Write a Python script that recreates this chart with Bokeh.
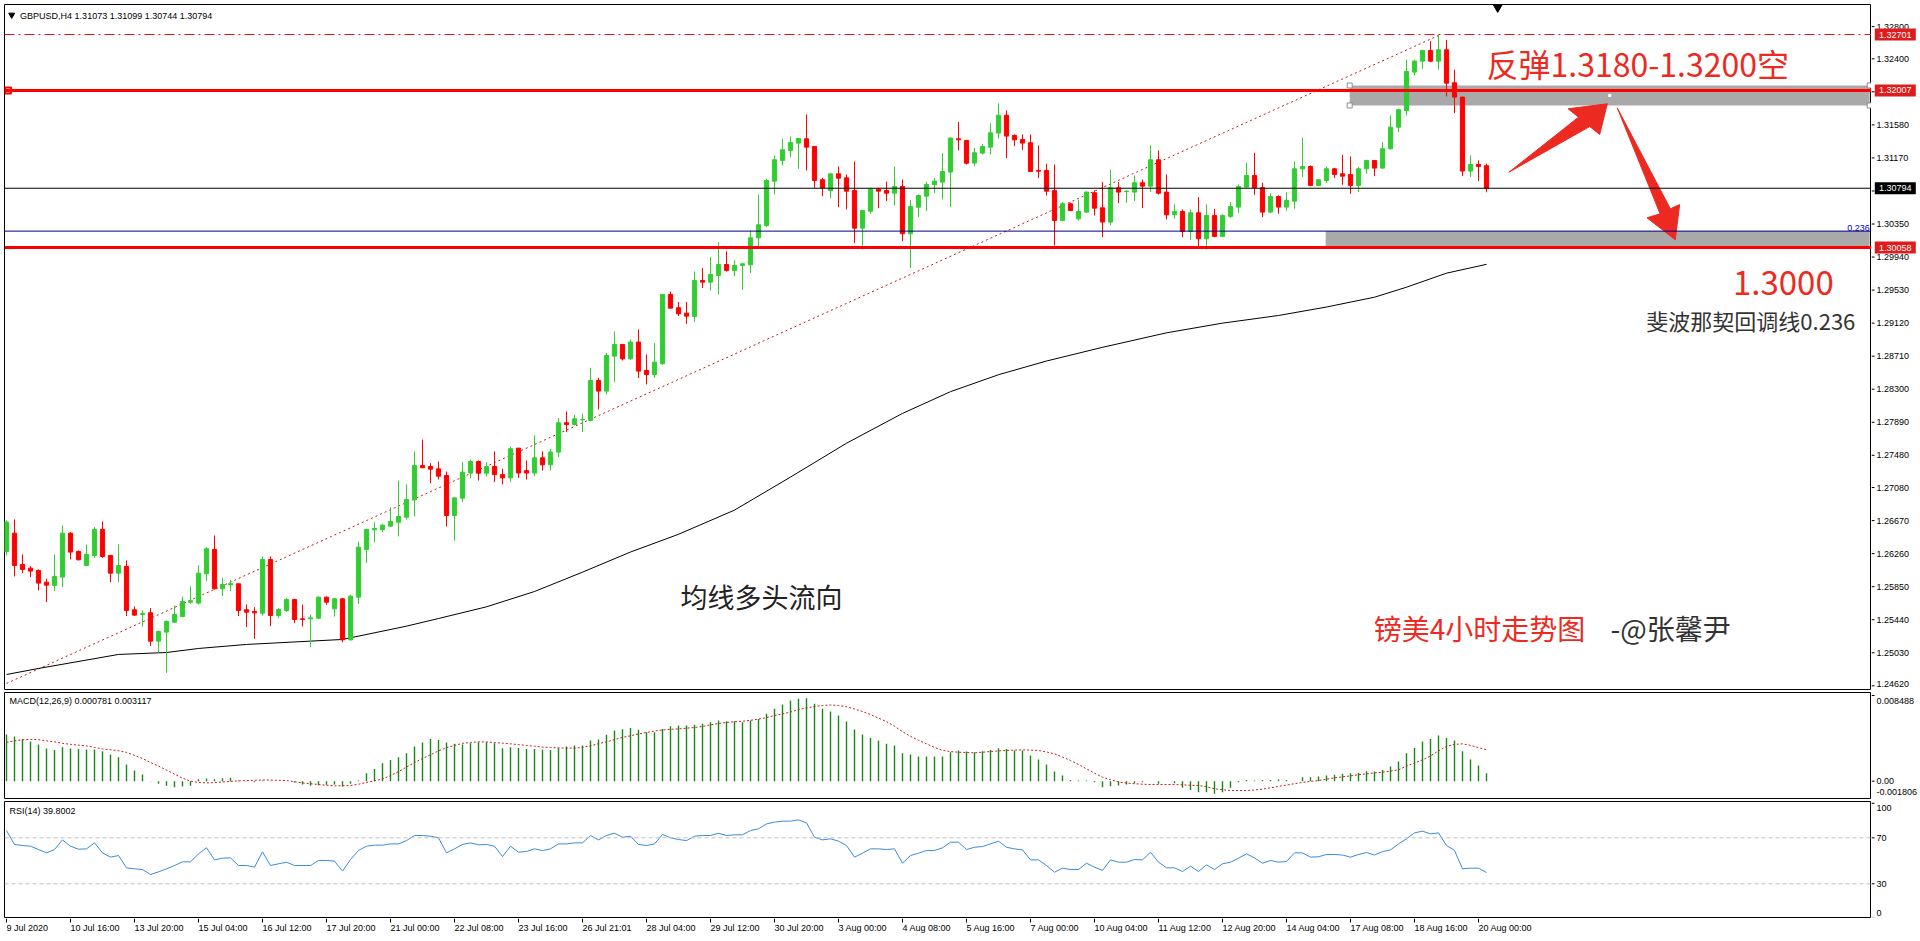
from bokeh.plotting import figure
from bokeh.models import Range1d, Span
from bokeh.layouts import column, row
from bokeh.embed import file_html
from bokeh.resources import INLINE
from bokeh.core.properties import value

# ---------------- data (GBPUSD H4, 9 Jul 08:00 .. 20 Aug 04:00) ----------------
opens = [
 1.26287, 1.26514, 1.26126, 1.26080, 1.26051, 1.25906, 1.25865, 1.25969, 1.26514, 1.26287,
 1.26113, 1.26237, 1.26560, 1.26237, 1.26018, 1.26101, 1.25563, 1.25505, 1.25526, 1.25174,
 1.25286, 1.25410, 1.25480, 1.25658, 1.25646, 1.26010, 1.26312, 1.25824, 1.25873, 1.25886,
 1.25563, 1.25542, 1.25521, 1.26187, 1.25492, 1.25554, 1.25691, 1.25451, 1.25451, 1.25459,
 1.25720, 1.25575, 1.25699, 1.25190, 1.25720, 1.26311, 1.26555, 1.26559, 1.26601, 1.26650,
 1.26712, 1.26927, 1.27353, 1.27341, 1.27312, 1.27229, 1.26733, 1.26948, 1.27262, 1.27403,
 1.27258, 1.27342, 1.27240, 1.27200, 1.27569, 1.27290, 1.27260, 1.27449, 1.27362, 1.27520,
 1.27884, 1.27863, 1.27921, 1.27913, 1.28409, 1.28277, 1.28711, 1.28856, 1.28678, 1.28885,
 1.28533, 1.28483, 1.28616, 1.29476, 1.29311, 1.29244, 1.29203, 1.29650, 1.29629, 1.29712,
 1.29848, 1.29774, 1.29836, 1.29844, 1.30179, 1.30332, 1.30882, 1.31139, 1.31263, 1.31354,
 1.31407, 1.31312, 1.30899, 1.30766, 1.30973, 1.30923, 1.30766, 1.30299, 1.30510, 1.30783,
 1.30766, 1.30733, 1.30816, 1.30229, 1.30559, 1.30696, 1.30837, 1.30870, 1.30994, 1.31407,
 1.31387, 1.31106, 1.31230, 1.31304, 1.31478, 1.31700, 1.31449, 1.31399, 1.31358, 1.31015,
 1.31015, 1.30767, 1.30394, 1.30601, 1.30415, 1.30498, 1.30738, 1.30551, 1.30374, 1.30800,
 1.30754, 1.30746, 1.30862, 1.30820, 1.31147, 1.30746, 1.30465, 1.30506, 1.30258, 1.30489,
 1.30167, 1.30456, 1.30196, 1.30444, 1.30560, 1.30808, 1.30953, 1.30800, 1.30498, 1.30692,
 1.30560, 1.30634, 1.31035, 1.31064, 1.30829, 1.30891, 1.31035, 1.30973, 1.30965, 1.30829,
 1.31035, 1.31139, 1.31044, 1.31284, 1.31552, 1.31759, 1.32235, 1.32371, 1.32504, 1.32371,
 1.32512, 1.32103, 1.31925, 1.31007, 1.31089, 1.31073]
highs = [
 1.26672, 1.26684, 1.26250, 1.26105, 1.26064, 1.25948, 1.26250, 1.26610, 1.26527, 1.26299,
 1.26374, 1.26589, 1.26659, 1.26237, 1.26374, 1.26175, 1.25605, 1.25555, 1.25584, 1.25307,
 1.25431, 1.25617, 1.25728, 1.25853, 1.26113, 1.26341, 1.26485, 1.25960, 1.25935, 1.25886,
 1.25629, 1.25596, 1.26224, 1.26224, 1.25583, 1.25707, 1.25691, 1.25629, 1.25505, 1.25728,
 1.25728, 1.25711, 1.25711, 1.25753, 1.26410, 1.26568, 1.26650, 1.26630, 1.26836, 1.27167,
 1.27118, 1.27527, 1.27676, 1.27382, 1.27403, 1.27279, 1.26961, 1.27395, 1.27424, 1.27416,
 1.27395, 1.27528, 1.27313, 1.27590, 1.27569, 1.27416, 1.27726, 1.27528, 1.27561, 1.27942,
 1.28024, 1.27983, 1.27995, 1.28566, 1.28442, 1.28752, 1.29017, 1.28856, 1.28918, 1.29042,
 1.28732, 1.28872, 1.29484, 1.29513, 1.29381, 1.29381, 1.29761, 1.29803, 1.29939, 1.30125,
 1.30010, 1.29898, 1.29865, 1.30270, 1.30713, 1.30911, 1.31201, 1.31407, 1.31436, 1.31420,
 1.31709, 1.31312, 1.30923, 1.30973, 1.31064, 1.30965, 1.31126, 1.30526, 1.30799, 1.30799,
 1.30878, 1.31064, 1.30903, 1.30650, 1.30717, 1.30870, 1.30919, 1.31230, 1.31428, 1.31614,
 1.31395, 1.31296, 1.31346, 1.31600, 1.31847, 1.31760, 1.31461, 1.31461, 1.31461, 1.31325,
 1.31097, 1.31089, 1.30622, 1.30614, 1.30651, 1.30754, 1.30767, 1.30870, 1.31023, 1.30870,
 1.30767, 1.30953, 1.30903, 1.31325, 1.31263, 1.30965, 1.30593, 1.30531, 1.30531, 1.30684,
 1.30593, 1.30539, 1.30469, 1.30622, 1.30841, 1.31110, 1.31234, 1.30862, 1.30734, 1.30705,
 1.30746, 1.31126, 1.31420, 1.31077, 1.30899, 1.31064, 1.31048, 1.31209, 1.31189, 1.31056,
 1.31147, 1.31139, 1.31366, 1.31697, 1.31780, 1.32388, 1.32388, 1.32512, 1.32620, 1.32701,
 1.32636, 1.32264, 1.31925, 1.31201, 1.31139, 1.31099]
lows = [
 1.26237, 1.25977, 1.26018, 1.25969, 1.25803, 1.25658, 1.25795, 1.25844, 1.26188, 1.26175,
 1.26105, 1.26208, 1.26208, 1.25906, 1.25906, 1.25485, 1.25485, 1.25356, 1.25112, 1.25030,
 1.24781, 1.25398, 1.25472, 1.25638, 1.25629, 1.25919, 1.25815, 1.25733, 1.25795, 1.25485,
 1.25348, 1.25203, 1.25492, 1.25360, 1.25463, 1.25534, 1.25397, 1.25356, 1.25099, 1.25451,
 1.25625, 1.25480, 1.25161, 1.25182, 1.25637, 1.26142, 1.26402, 1.26526, 1.26597, 1.26473,
 1.26683, 1.26721, 1.27325, 1.27134, 1.27180, 1.26597, 1.26423, 1.26899, 1.27196, 1.27167,
 1.27217, 1.27150, 1.27120, 1.27150, 1.27200, 1.27180, 1.27220, 1.27292, 1.27292, 1.27458,
 1.27768, 1.27851, 1.27768, 1.27904, 1.28049, 1.28235, 1.28388, 1.28657, 1.28665, 1.28438,
 1.28359, 1.28442, 1.28603, 1.29306, 1.29207, 1.29112, 1.29133, 1.29555, 1.29526, 1.29476,
 1.29761, 1.29703, 1.29534, 1.29741, 1.30063, 1.30311, 1.30717, 1.31076, 1.31180, 1.31035,
 1.31014, 1.30799, 1.30696, 1.30671, 1.30559, 1.30531, 1.30113, 1.30034, 1.30477, 1.30547,
 1.30634, 1.30580, 1.30138, 1.29803, 1.30435, 1.30510, 1.30733, 1.30655, 1.30559, 1.31263,
 1.31089, 1.31068, 1.31213, 1.31213, 1.31408, 1.31168, 1.31317, 1.31271, 1.30994, 1.30920,
 1.30704, 1.30084, 1.30386, 1.30510, 1.30394, 1.30489, 1.30456, 1.30187, 1.30332, 1.30609,
 1.30614, 1.30634, 1.30547, 1.30746, 1.30717, 1.30407, 1.30415, 1.30187, 1.30154, 1.30055,
 1.30034, 1.30188, 1.30196, 1.30427, 1.30485, 1.30800, 1.30713, 1.30436, 1.30485, 1.30477,
 1.30510, 1.30539, 1.30932, 1.30820, 1.30829, 1.30862, 1.30920, 1.30837, 1.30725, 1.30746,
 1.30973, 1.30944, 1.31035, 1.31275, 1.31490, 1.31697, 1.32194, 1.32276, 1.32359, 1.32268,
 1.31933, 1.31726, 1.30944, 1.30932, 1.30882, 1.30744]
closes = [
 1.26651, 1.26113, 1.26064, 1.26043, 1.25894, 1.25869, 1.25977, 1.26514, 1.26279, 1.26184,
 1.26250, 1.26560, 1.26225, 1.26018, 1.26113, 1.25555, 1.25497, 1.25518, 1.25174, 1.25294,
 1.25418, 1.25505, 1.25667, 1.25675, 1.26018, 1.26320, 1.25824, 1.25877, 1.25886, 1.25555,
 1.25534, 1.25525, 1.26187, 1.25492, 1.25567, 1.25691, 1.25443, 1.25443, 1.25463, 1.25720,
 1.25658, 1.25699, 1.25190, 1.25732, 1.26340, 1.26559, 1.26572, 1.26613, 1.26659, 1.26721,
 1.26932, 1.27353, 1.27325, 1.27308, 1.27221, 1.26733, 1.26952, 1.27271, 1.27403, 1.27258,
 1.27341, 1.27240, 1.27200, 1.27561, 1.27260, 1.27260, 1.27449, 1.27362, 1.27520, 1.27884,
 1.27863, 1.27933, 1.27925, 1.28409, 1.28277, 1.28719, 1.28856, 1.28678, 1.28885, 1.28525,
 1.28483, 1.28636, 1.29476, 1.29306, 1.29236, 1.29207, 1.29650, 1.29629, 1.29724, 1.29848,
 1.29774, 1.29836, 1.29856, 1.30179, 1.30340, 1.30890, 1.31147, 1.31271, 1.31362, 1.31411,
 1.31304, 1.30890, 1.30799, 1.30973, 1.30919, 1.30758, 1.30299, 1.30518, 1.30783, 1.30758,
 1.30733, 1.30816, 1.30229, 1.30568, 1.30704, 1.30841, 1.30882, 1.31002, 1.31416, 1.31395,
 1.31105, 1.31234, 1.31312, 1.31482, 1.31700, 1.31441, 1.31395, 1.31354, 1.31002, 1.31006,
 1.30758, 1.30394, 1.30601, 1.30518, 1.30506, 1.30746, 1.30547, 1.30374, 1.30800, 1.30746,
 1.30758, 1.30862, 1.30820, 1.31147, 1.30733, 1.30465, 1.30506, 1.30258, 1.30489, 1.30167,
 1.30456, 1.30196, 1.30456, 1.30568, 1.30816, 1.30953, 1.30800, 1.30498, 1.30692, 1.30560,
 1.30643, 1.31035, 1.31064, 1.30829, 1.30899, 1.31035, 1.30965, 1.30944, 1.30829, 1.31035,
 1.31139, 1.31044, 1.31284, 1.31552, 1.31768, 1.32243, 1.32371, 1.32504, 1.32371, 1.32512,
 1.32098, 1.31925, 1.31007, 1.31089, 1.31064, 1.30794]

# long moving average, read at these bars
ma_bars = [0, 4, 14, 20, 24, 30, 42, 50, 54, 60, 66, 72, 78, 84, 91, 98, 105, 112, 118,
           124, 130, 137, 145, 152, 159, 165, 171, 175, 180, 185]
ma_vals = [1.24760, 1.24835, 1.25009, 1.25033, 1.25083, 1.25133, 1.25195, 1.25360, 1.25455, 1.25600,
           1.25790, 1.26030, 1.26280, 1.26500, 1.26800, 1.27210, 1.27630, 1.28000, 1.28270,
           1.28480, 1.28650, 1.28820, 1.29000, 1.29120, 1.29215, 1.29320, 1.29442, 1.29566, 1.29740, 1.29850]

macd_main = [
 0.00462, 0.00442, 0.00419, 0.00393, 0.00363, 0.00324, 0.00310, 0.00337, 0.00324, 0.00320,
 0.00314, 0.00314, 0.00297, 0.00264, 0.00238, 0.00165, 0.00106, 0.00066, 0.00002, -0.00026,
 -0.00046, -0.00059, -0.00053, -0.00046, 0.00020, 0.00026, 0.00020, 0.00030, 0.00033, 0.00007,
 -0.00003, -0.00010, 0.00007, 0.00001, -0.00001, 0.00000, -0.00013, -0.00033, -0.00046, -0.00040,
 -0.00036, -0.00033, -0.00053, -0.00026, 0.00007, 0.00079, 0.00122, 0.00178, 0.00211, 0.00238,
 0.00277, 0.00343, 0.00383, 0.00419, 0.00409, 0.00383, 0.00370, 0.00363, 0.00376, 0.00386,
 0.00386, 0.00376, 0.00327, 0.00337, 0.00330, 0.00320, 0.00320, 0.00314, 0.00310, 0.00327,
 0.00343, 0.00353, 0.00353, 0.00403, 0.00413, 0.00459, 0.00502, 0.00515, 0.00528, 0.00509,
 0.00485, 0.00485, 0.00518, 0.00545, 0.00551, 0.00551, 0.00558, 0.00568, 0.00584, 0.00601,
 0.00594, 0.00594, 0.00584, 0.00601, 0.00617, 0.00667, 0.00717, 0.00759, 0.00799, 0.00816,
 0.00822, 0.00766, 0.00717, 0.00690, 0.00650, 0.00591, 0.00512, 0.00462, 0.00429, 0.00403,
 0.00370, 0.00353, 0.00277, 0.00264, 0.00244, 0.00244, 0.00244, 0.00244, 0.00287, 0.00304,
 0.00294, 0.00287, 0.00297, 0.00310, 0.00327, 0.00320, 0.00304, 0.00304, 0.00254, 0.00215,
 0.00165, 0.00096, 0.00056, 0.00013, 0.00007, 0.00007, -0.00010, -0.00059, -0.00050, -0.00043,
 -0.00033, -0.00020, -0.00010, 0.00000, -0.00026, 0.00000, -0.00020, -0.00066, -0.00086, -0.00109,
 -0.00109, -0.00125, -0.00109, -0.00066, -0.00010, 0.00013, 0.00007, 0.00013, 0.00013, 0.00017,
 0.00013, 0.00000, 0.00040, 0.00040, 0.00046, 0.00056, 0.00063, 0.00073, 0.00079, 0.00083,
 0.00099, 0.00096, 0.00112, 0.00145, 0.00195, 0.00277, 0.00330, 0.00393, 0.00419, 0.00452,
 0.00429, 0.00403, 0.00297, 0.00215, 0.00155, 0.00078]
macd_signal = [
 0.00385, 0.00400, 0.00410, 0.00414, 0.00412, 0.00400, 0.00390, 0.00375, 0.00365, 0.00357,
 0.00350, 0.00335, 0.00320, 0.00311, 0.00302, 0.00285, 0.00255, 0.00225, 0.00185, 0.00150,
 0.00110, 0.00070, 0.00030, 0.00000, -0.00012, -0.00017, -0.00014, -0.00008, -0.00002, 0.00003,
 0.00006, 0.00009, 0.00012, 0.00011, 0.00009, 0.00006, -0.00005, -0.00017, -0.00025, -0.00033,
 -0.00040, -0.00046, -0.00045, -0.00043, -0.00030, -0.00012, 0.00005, 0.00022, 0.00055, 0.00095,
 0.00140, 0.00185, 0.00225, 0.00262, 0.00300, 0.00332, 0.00355, 0.00375, 0.00384, 0.00390,
 0.00388, 0.00383, 0.00377, 0.00370, 0.00362, 0.00354, 0.00346, 0.00338, 0.00334, 0.00330,
 0.00328, 0.00327, 0.00335, 0.00350, 0.00372, 0.00390, 0.00412, 0.00434, 0.00450, 0.00468,
 0.00482, 0.00497, 0.00508, 0.00514, 0.00518, 0.00525, 0.00532, 0.00542, 0.00558, 0.00572,
 0.00582, 0.00589, 0.00594, 0.00603, 0.00615, 0.00630, 0.00650, 0.00667, 0.00685, 0.00710,
 0.00725, 0.00740, 0.00750, 0.00755, 0.00750, 0.00738, 0.00715, 0.00690, 0.00660, 0.00625,
 0.00590, 0.00545, 0.00490, 0.00445, 0.00405, 0.00370, 0.00335, 0.00305, 0.00293, 0.00287,
 0.00284, 0.00281, 0.00287, 0.00294, 0.00300, 0.00304, 0.00308, 0.00310, 0.00308, 0.00304,
 0.00290, 0.00270, 0.00240, 0.00205, 0.00165, 0.00122, 0.00080, 0.00040, 0.00015, -0.00008,
 -0.00018, -0.00025, -0.00030, -0.00033, -0.00033, -0.00033, -0.00034, -0.00036, -0.00040, -0.00043,
 -0.00055, -0.00075, -0.00085, -0.00092, -0.00092, -0.00092, -0.00088, -0.00078, -0.00066, -0.00052,
 -0.00038, -0.00025, -0.00012, -0.00002, 0.00006, 0.00020, 0.00033, 0.00043, 0.00053, 0.00064,
 0.00073, 0.00082, 0.00089, 0.00100, 0.00112, 0.00150, 0.00180, 0.00211, 0.00250, 0.00300,
 0.00345, 0.00365, 0.00370, 0.00355, 0.00332, 0.00312]
rsi = [
 76.3, 64.2, 63.3, 62.7, 59.8, 56.9, 59.8, 68.2, 62.7, 60.1,
 60.4, 65.6, 56.9, 53.2, 54.6, 43.9, 43.0, 42.4, 38.1, 40.4,
 43.0, 45.9, 49.1, 49.1, 56.0, 61.3, 50.8, 52.3, 52.6, 45.9,
 45.9, 44.5, 57.8, 45.9, 47.4, 48.8, 45.9, 45.9, 45.9, 50.3,
 50.3, 49.7, 41.0, 51.1, 59.0, 62.7, 63.6, 63.6, 64.7, 64.7,
 67.6, 72.0, 72.0, 71.4, 70.0, 56.9, 60.4, 64.2, 65.6, 63.9,
 64.2, 62.7, 53.7, 62.7, 57.5, 58.1, 60.4, 58.9, 60.4, 64.7,
 64.7, 65.6, 65.6, 72.0, 68.2, 72.0, 74.0, 70.5, 71.4, 64.2,
 63.3, 64.7, 72.9, 70.0, 68.5, 67.6, 71.4, 72.0, 72.0, 74.0,
 72.0, 72.6, 72.6, 76.3, 77.8, 82.1, 83.6, 84.5, 84.5, 85.6,
 83.0, 70.5, 68.2, 69.1, 67.1, 63.3, 53.2, 56.6, 60.4, 60.4,
 59.8, 60.4, 47.9, 54.6, 56.6, 59.0, 59.0, 61.3, 66.2, 66.2,
 59.8, 61.8, 62.4, 64.7, 67.1, 61.8, 60.4, 59.5, 50.8, 50.8,
 45.9, 40.1, 43.6, 42.4, 42.4, 47.9, 44.5, 41.6, 50.8, 48.8,
 48.8, 51.1, 50.8, 57.5, 48.8, 43.9, 43.9, 40.7, 45.3, 40.7,
 46.5, 42.4, 47.4, 48.8, 52.3, 56.0, 52.6, 47.9, 50.3, 48.8,
 49.4, 56.9, 56.9, 53.2, 53.5, 55.5, 55.5, 55.0, 53.2, 55.5,
 57.2, 55.0, 58.0, 59.5, 64.7, 69.1, 74.3, 75.8, 73.4, 74.3,
 63.3, 59.0, 43.0, 43.6, 43.6, 39.8]

time_labels = ["9 Jul 2020", "10 Jul 16:00", "13 Jul 20:00", "15 Jul 04:00", "16 Jul 12:00",
               "17 Jul 20:00", "21 Jul 00:00", "22 Jul 08:00", "23 Jul 16:00", "26 Jul 21:01",
               "28 Jul 04:00", "29 Jul 12:00", "30 Jul 20:00", "3 Aug 00:00", "4 Aug 08:00",
               "5 Aug 16:00", "7 Aug 00:00", "10 Aug 04:00", "11 Aug 12:00", "12 Aug 20:00",
               "14 Aug 04:00", "17 Aug 08:00", "18 Aug 16:00", "20 Aug 00:00"]
time_label_bars = [8 * k for k in range(len(time_labels))]
price_ticks = [1.32800, 1.32400, 1.31990, 1.31580, 1.31170, 1.30760, 1.30350, 1.29940, 1.29530,
               1.29120, 1.28710, 1.28300, 1.27890, 1.27480, 1.27080, 1.26670, 1.26260, 1.25850,
               1.25440, 1.25030, 1.24620]
macd_scale = [0.008488, 0.0, -0.001806]
rsi_scale = [100, 70, 30, 0]

# levels / objects drawn on the chart
level_top = 1.32701
level_resist = 1.32007
level_bid = 1.30794
level_fib = 1.30262
level_support = 1.30058
trend_bars = [0, 179]
trend_vals = [1.24649, 1.32689]
zone_res = (167.9, 232.9, 1.31821, 1.32069)
zone_sup = (164.9, 232.9, 1.30058, 1.30262)
arrow_up_bars = [187.8, 196.5, 195.2, 200.1, 199.15, 197.9]
arrow_up_vals = [1.30993, 1.31676, 1.31780, 1.31842, 1.31461, 1.31560]
arrow_dn_bars = [201.34, 207.98, 209.15, 208.59, 205.06, 206.70]
arrow_dn_vals = [1.31792, 1.30539, 1.30592, 1.30154, 1.30427, 1.30477]

# ---------------- styling ----------------
UP = "#32cd32"
DOWN = "#ff0000"
RED = "#ec2a22"
FONT = "Liberation Sans"
CJK = "Noto Sans CJK SC"
n = len(opens)
idx = list(range(n))
colors = [UP if c >= o else DOWN for o, c in zip(opens, closes)]
tops = [max(o, c) for o, c in zip(opens, closes)]
bots = [min(o, c) for o, c in zip(opens, closes)]

X0, X1 = -0.25, 233.125
xr = Range1d(X0, X1)


def panel(h, top, bottom, yr):
    p = figure(width=1871, height=h, x_range=xr, y_range=yr, output_backend="svg",
               toolbar_location=None, x_axis_location=None, y_axis_location=None,
               min_border_left=4, min_border_right=0, min_border_top=top, min_border_bottom=bottom)
    p.outline_line_color = "black"
    p.outline_line_width = 1
    p.background_fill_color = "white"
    p.border_fill_color = "white"
    p.grid.visible = False
    return p


def strip(h, top, bottom, yr):
    s = figure(width=49, height=h, x_range=Range1d(0, 49), y_range=yr, output_backend="svg",
               toolbar_location=None, x_axis_location=None, y_axis_location=None,
               min_border_left=0, min_border_right=0, min_border_top=top, min_border_bottom=bottom)
    s.outline_line_color = None
    s.background_fill_color = "white"
    s.border_fill_color = "white"
    s.grid.visible = False
    return s


def txt(p, x, y, t, size="9px", color="black", align="left", baseline="middle", font=FONT, yoff=0):
    p.text(x=x, y=y, text=t, text_font=value(font), text_font_size=size, text_color=color,
           text_align=align, text_baseline=baseline, y_offset=yoff)


# ---------------- main price panel ----------------
p1 = panel(690, 4, 1, Range1d(1.24574, 1.33074))
for z in (zone_res, zone_sup):
    p1.quad(left=[z[0]], right=[z[1]], bottom=[z[2]], top=[z[3]], fill_color="#a9a9a9", line_color=None)

p1.line(trend_bars, trend_vals, line_color="#c01c1c", line_dash="2 3", line_width=1)
p1.line(ma_bars, ma_vals, line_color="black", line_width=1)

p1.segment(x0=idx, y0=lows, x1=idx, y1=highs, line_color=colors, line_width=1)
p1.vbar(x=idx, width=0.52, top=tops, bottom=bots, fill_color=colors, line_color=colors, line_width=1)

p1.add_layout(Span(location=level_top, dimension="width", line_color="#d01414", line_dash="10 4 2 4", line_width=1))
p1.add_layout(Span(location=level_resist, dimension="width", line_color="#ff0000", line_width=3))
p1.add_layout(Span(location=level_bid, dimension="width", line_color="black", line_width=1))
p1.add_layout(Span(location=level_fib, dimension="width", line_color="#000080", line_width=1))
p1.add_layout(Span(location=level_support, dimension="width", line_color="#ff0000", line_width=3))

# rectangle handles and anchor marks
p1.scatter(x=[zone_res[0], zone_res[0], zone_res[1], zone_res[1]],
           y=[zone_res[3], zone_res[2], zone_res[3], zone_res[2]],
           marker="square", size=5, fill_color="white", line_color="#8c8c8c")
p1.scatter(x=[(zone_res[0] + zone_res[1]) / 2], y=[(zone_res[2] + zone_res[3]) / 2],
           marker="square", size=3, fill_color="white", line_color=None)
p1.scatter(x=[0.2], y=[level_resist], marker="square", size=6, fill_color="white", line_color="#ff0000", line_width=2)
p1.scatter(x=[186.4], y=[1.33040], marker="inverted_triangle", size=9, fill_color="black", line_color="black")

txt(p1, [232.9], [level_fib], ["0.236"], color="#0000cc", align="right", baseline="bottom")

p1.patch(arrow_up_bars, arrow_up_vals, fill_color=RED, line_color=RED, line_width=1)
p1.patch(arrow_dn_bars, arrow_dn_vals, fill_color=RED, line_color=RED, line_width=1)

txt(p1, [185.0], [1.32354], ["反弹1.3180-1.3200空"], size="32px", color=RED, font=CJK)
txt(p1, [228.4], [1.29612], ["1.3000"], size="33px", color=RED, align="right", font=CJK)
txt(p1, [231.1], [1.29165], ["斐波那契回调线0.236"], size="22px", color="#333333", align="right", font=CJK)
txt(p1, [84.25], [1.25728], ["均线多头流向"], size="27px", color="#222222", font=CJK)
txt(p1, [170.9], [1.25331], ["镑美4小时走势图"], size="28px", color=RED, font=CJK)
txt(p1, [200.5], [1.25331], ["-@张馨尹"], size="28px", color="#333333", font=CJK)

p1.scatter(x=[0.65], y=[1.32945], marker="inverted_triangle", size=6, fill_color="black", line_color="black")
txt(p1, [1.7], [1.32931], ["GBPUSD,H4  1.31073 1.31099 1.30744 1.30794"])

s1 = strip(690, 4, 1, p1.y_range)
s1.segment(x0=[0] * len(price_ticks), x1=[3] * len(price_ticks), y0=price_ticks, y1=price_ticks, line_color="black")
txt(s1, [5] * (len(price_ticks) - 1), price_ticks[:-1], [f"{v:.5f}" for v in price_ticks[:-1]])
txt(s1, [5], price_ticks[-1:], [f"{price_ticks[-1]:.5f}"], yoff=-2)
box_vals = [level_top, level_resist, level_bid, level_support]
box_cols = ["#e01b1b", "#e01b1b", "#000000", "#e01b1b"]
s1.rect(x=[23.8] * 4, y=box_vals, width=41, height=12, height_units="screen",
        fill_color=box_cols, line_color=None)
txt(s1, [23.8] * 4, box_vals, [f"{v:.5f}" for v in box_vals], color="white", align="center")

# ---------------- MACD panel ----------------
p2 = panel(109, 2, 1, Range1d(-0.001714, 0.008786))
p2.segment(x0=idx, y0=[0.0] * n, x1=idx, y1=macd_main, line_color="#138a13", line_width=1.4)
p2.line(idx, macd_signal, line_color="#c81e1e", line_dash="2 2", line_width=1)
txt(p2, [0.375], [0.00792], ["MACD(12,26,9) 0.000781 0.003117"])

s2 = strip(109, 2, 1, p2.y_range)
s2.segment(x0=[0, 0], x1=[3, 3], y0=macd_scale[:2], y1=macd_scale[:2], line_color="black")
# the min/max scale texts sit inside the pane, as the terminal draws them
txt(s2, [5], [macd_scale[0]], ["0.008488"], yoff=5)
txt(s2, [5], [macd_scale[1]], ["0.00"])
txt(s2, [5], [-0.0011], ["-0.001806"])

# ---------------- RSI panel ----------------
p3 = panel(119, 2, 0, Range1d(-0.17, 101.57))
for lv in (70, 30):
    p3.add_layout(Span(location=lv, dimension="width", line_color="#c0c0c0", line_dash="4 3", line_width=1))
p3.line(idx, rsi, line_color="#3b8bd6", line_width=1)
txt(p3, [0.375], [93.1], ["RSI(14) 39.8002"])

s3 = strip(119, 2, 0, p3.y_range)
s3.segment(x0=[0] * 4, x1=[3] * 4, y0=rsi_scale, y1=rsi_scale, line_color="black")
txt(s3, [5], [95.5], ["100"])
txt(s3, [5, 5], rsi_scale[1:3], ["70", "30"])
txt(s3, [5], [4.8], ["0"])

# ---------------- time axis strip ----------------
p4 = figure(width=1871, height=23, x_range=xr, y_range=Range1d(0, 23), output_backend="svg",
            toolbar_location=None, x_axis_location=None, y_axis_location=None,
            min_border_left=4, min_border_right=0, min_border_top=0, min_border_bottom=0)
p4.outline_line_color = None
p4.grid.visible = False
p4.segment(x0=time_label_bars, x1=time_label_bars, y0=[23] * len(time_label_bars),
           y1=[19] * len(time_label_bars), line_color="black")
txt(p4, time_label_bars, [13.3] * len(time_label_bars), time_labels)

layout = column(row(p1, s1), row(p2, s2), row(p3, s3), p4)
open("out.html", "w").write(file_html(layout, INLINE))
